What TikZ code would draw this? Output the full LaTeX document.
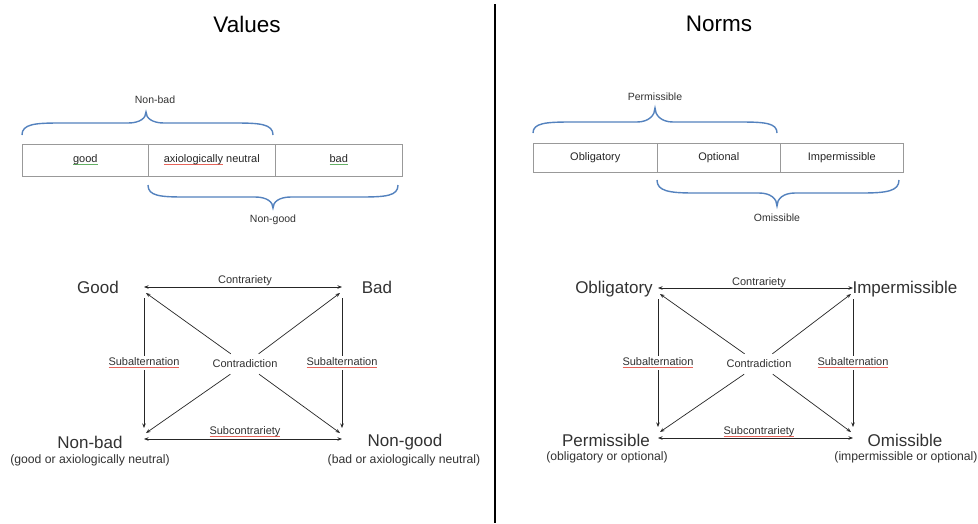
\documentclass[tikz,border=0pt]{standalone}
\usepackage{fontspec}
\setmainfont{Liberation Sans}
\usetikzlibrary{arrows.meta}
\definecolor{bracecol}{RGB}{84,130,190}
\definecolor{txt}{RGB}{50,50,50}
\definecolor{spellred}{RGB}{230,100,90}
\definecolor{spellgreen}{RGB}{100,175,100}
\newcommand\spellul[2]{\setbox0\hbox{#2}\rlap{\textcolor{#1}{\rule[-2.5pt]{\wd0}{0.75pt}}}\box0\relax}
\tikzset{
  big/.style={font=\fontsize{17}{19}\selectfont, text=txt, inner sep=1pt},
  sub/.style={font=\fontsize{12.2}{14}\selectfont, text=txt, inner sep=1pt},
  lab/.style={font=\fontsize{11}{13}\selectfont, text=txt, inner sep=1.5pt},
  brlab/.style={font=\fontsize{10.5}{12}\selectfont, text=txt, inner sep=1.5pt},
  rellab/.style={font=\fontsize{11}{13}\selectfont, text=txt, fill=white, inner sep=2pt},
  title/.style={font=\fontsize{22.5}{26}\selectfont, text=black},
  cell/.style={draw=gray!80, line width=0.6pt, minimum height=32pt, inner sep=0pt, font=\fontsize{11}{13}\selectfont, text=black!85},
  brc/.style={draw=bracecol, line width=1.4pt},
  arr/.style={draw=black!85, line width=0.7pt, -{Stealth[length=4.5pt,width=3.5pt]}},
  darr/.style={draw=black!85, line width=0.7pt, {Stealth[length=4.5pt,width=3.5pt]}-{Stealth[length=4.5pt,width=3.5pt]}},
}
\begin{document}
\begin{tikzpicture}[x=1pt,y=-1pt]
\useasboundingbox (0,0) rectangle (978,523);
\fill[white] (0,0) rectangle (978,523);

% divider
\coordinate (dtop) at (495,4);
\coordinate (dbot) at (495,523);
\draw[line width=2pt, black] (dtop) -- (dbot);

% titles
\node[title] (tv) at (247,24) {Values};
\node[title] (tn) at (719,24) {Norms};

% ---------------- Values table ----------------
\node[cell, minimum width=126pt, anchor=west] (c1) at (22,160) {\spellul{spellgreen}{good}};
\node[cell, minimum width=127pt, anchor=west] (c2) at (148,160) {\spellul{spellred}{axiologically} neutral};
\node[cell, minimum width=127pt, anchor=west] (c3) at (275,160) {\spellul{spellgreen}{bad}};

\draw[brc] (22,135) .. controls (22,124) and (35,123) .. (60,123) -- (128,123)
  .. controls (140,123) and (146,118) .. (146,112)
  .. controls (146,118) and (152,123) .. (164,123) -- (235,123)
  .. controls (260,123) and (273,124) .. (273,135);
\node[brlab] (nb) at (155,100) {Non-bad};

\draw[brc] (148,185) .. controls (148,196) and (160,197) .. (185,197) -- (255,197)
  .. controls (267,197) and (273,202) .. (273,208)
  .. controls (273,202) and (279,197) .. (291,197) -- (360,197)
  .. controls (386,197) and (398,196) .. (398,185);
\node[brlab] (ng) at (273,220) {Non-good};

% ---------------- Norms table ----------------
\node[cell, minimum width=124pt, minimum height=29pt, anchor=west] (d1) at (533,157.5) {Obligatory};
\node[cell, minimum width=123pt, minimum height=29pt, anchor=west] (d2) at (657,157.5) {Optional};
\node[cell, minimum width=123pt, minimum height=29pt, anchor=west] (d3) at (780,157.5) {Impermissible};

\draw[brc] (533,133) .. controls (533,123) and (546,122) .. (571,122) -- (637,122)
  .. controls (649,122) and (655,115) .. (655,108)
  .. controls (655,115) and (661,122) .. (673,122) -- (740,122)
  .. controls (765,122) and (777,123) .. (777,133);
\node[brlab] (pm) at (655,97) {Permissible};

\draw[brc] (657,180) .. controls (657,191) and (669,193) .. (694,193) -- (759,193)
  .. controls (771,193) and (777,199) .. (777,206)
  .. controls (777,199) and (783,193) .. (795,193) -- (862,193)
  .. controls (887,193) and (899,191) .. (899,180);
\node[brlab] (om) at (777,218) {Omissible};

% ---------------- Values square ----------------
\coordinate (vTL) at (144,287);
\coordinate (vTR) at (342,287);
\coordinate (vBL) at (144,439);
\coordinate (vBR) at (342,439);
\coordinate (vTLd) at (144,298);
\coordinate (vBLd) at (144,428);
\coordinate (vTRd) at (342,298);
\coordinate (vBRd) at (342,428);
\coordinate (vTLx) at (146,293);
\coordinate (vTRx) at (340,293);
\coordinate (vBLx) at (146,433);
\coordinate (vBRx) at (340,433);

\node[big] (good) at (98,287) {Good};
\node[big] (bad) at (377,287) {Bad};
\node[big] (nonbad) at (90,442) {Non-bad};
\node[sub] (nonbads) at (90,460) {(good or axiologically neutral)};
\node[big] (nongood) at (405,442) {Non-good};
\node[sub] (nongoods) at (404,460) {(bad or axiologically neutral)};

\draw[darr] (vTL) -- (vTR);
\node[lab] (vcontr) at (245,281) {Contrariety};
\draw[darr] (vBL) -- (vBR);
\node[lab] (vsubc) at (245,432) {\spellul{spellred}{Subcontrariety}};

\draw[arr] (vTLd) -- node[rellab] (vsubl) {\spellul{spellred}{Subalternation}} (vBLd);
\draw[arr] (vTRd) -- node[rellab] (vsubr) {\spellul{spellred}{Subalternation}} (vBRd);

\node[lab, minimum width=72pt, minimum height=20pt] (vcd) at (245,364) {Contradiction};
\draw[arr] (vcd) -- (vTLx);
\draw[arr] (vcd) -- (vTRx);
\draw[arr] (vcd) -- (vBLx);
\draw[arr] (vcd) -- (vBRx);

% ---------------- Norms square ----------------
\coordinate (nTL) at (658,288);
\coordinate (nTR) at (853,288);
\coordinate (nBL) at (658,438);
\coordinate (nBR) at (853,438);
\coordinate (nTLd) at (658,299);
\coordinate (nBLd) at (658,427);
\coordinate (nTRd) at (853,299);
\coordinate (nBRd) at (853,427);
\coordinate (nTLx) at (660,294);
\coordinate (nTRx) at (851,294);
\coordinate (nBLx) at (660,432);
\coordinate (nBRx) at (851,432);

\node[big] (obl) at (614,289) {Obligatory};
\node[big] (imp) at (905,289) {Impermissible};
\node[big] (perm) at (606,440) {Permissible};
\node[sub] (perms) at (607,457) {(obligatory or optional)};
\node[big] (omis) at (905,440) {Omissible};
\node[sub] (omiss) at (906,457) {(impermissible or optional)};

\draw[darr] (nTL) -- (nTR);
\node[lab] (ncontr) at (759,283) {Contrariety};
\draw[darr] (nBL) -- (nBR);
\node[lab] (nsubc) at (759,432) {\spellul{spellred}{Subcontrariety}};

\draw[arr] (nTLd) -- node[rellab] (nsubl) {\spellul{spellred}{Subalternation}} (nBLd);
\draw[arr] (nTRd) -- node[rellab] (nsubr) {\spellul{spellred}{Subalternation}} (nBRd);

\node[lab, minimum width=72pt, minimum height=20pt] (ncd) at (759,364) {Contradiction};
\draw[arr] (ncd) -- (nTLx);
\draw[arr] (ncd) -- (nTRx);
\draw[arr] (ncd) -- (nBLx);
\draw[arr] (ncd) -- (nBRx);
\end{tikzpicture}
\end{document}
